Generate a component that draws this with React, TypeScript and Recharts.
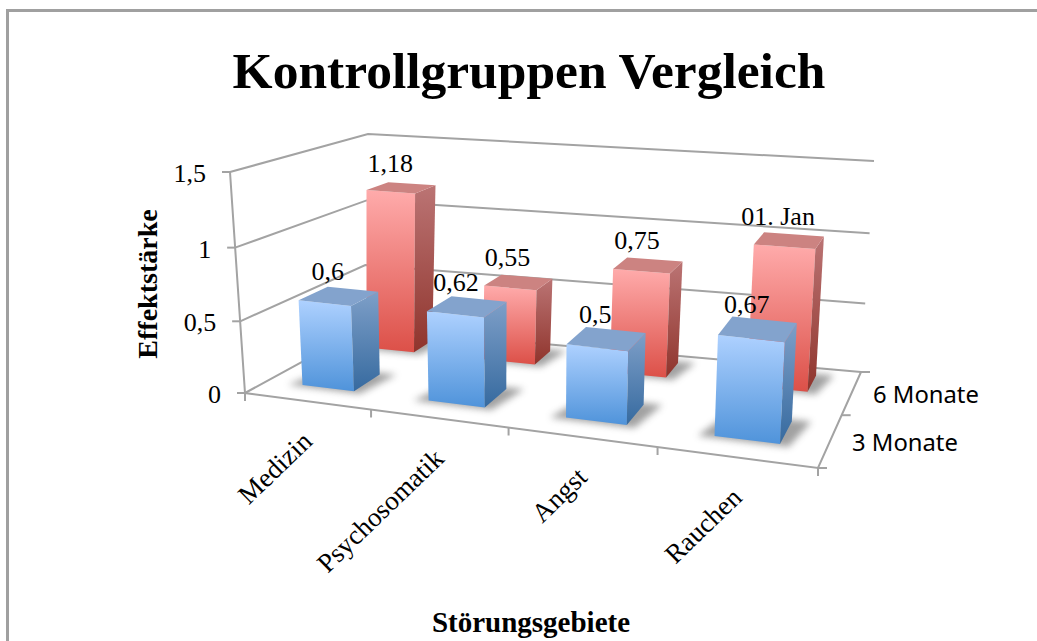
import { BarChart, Bar, XAxis, YAxis, CartesianGrid, LabelList } from "recharts";

const categories = ["Medizin", "Psychosomatik", "Angst", "Rauchen"];
const months3 = [0.6, 0.62, 0.5, 0.67];
const months6 = [1.18, 0.55, 0.75, 1];
const labels3 = ["0,6", "0,62", "0,5", "0,67"];
const labels6 = ["1,18", "0,55", "0,75", "01. Jan"];
const yTicks = [0, 0.5, 1, 1.5];
const yTickLabels = ["0", "0,5", "1", "1,5"];
const rowNames = ["3 Monate", "6 Monate"];

const data = categories.map((name, i) => ({
  name,
  months3: months3[i],
  months6: months6[i],
  label3: labels3[i],
  label6: labels6[i],
}));

const WIDTH = 1037;
const HEIGHT = 641;
const PLOT = { left: 245, top: 172, width: 573, height: 296 };

const SERIF = "'Liberation Serif', serif";
const SANS = "'Noto Sans', sans-serif";
const AXIS_GREY = "#a3a3a3";

type Pt = [number, number];

// box corners as seen on screen: floor and ceiling, front-left, front-right, back-right, back-left
const FLOOR: Pt[] = [[245, 393], [818, 468], [861, 372], [364, 328]];
const CEIL: Pt[] = [[230, 172], [831, 228], [874, 161], [368, 134]];

const ROW_DEPTH: Pt[] = [[0.19, 0.43], [0.75, 0.92]];

const mix = (a: Pt, b: Pt, t: number): Pt => [a[0] + (b[0] - a[0]) * t, a[1] + (b[1] - a[1]) * t];

const onQuad = (q: Pt[], u: number, d: number): Pt => mix(mix(q[0], q[1], u), mix(q[3], q[2], u), d);

// u and d are 0..1 along the front edge and into the depth, h is 0..1 up the wall
function project(u: number, d: number, h: number): Pt {
  const wu = 0.84 * u + 0.16 * u * u;
  const wh = 0.96 * h + 0.04 * h * h;
  return mix(onQuad(FLOOR, wu, d), onQuad(CEIL, wu, d), wh);
}

const poly = (pts: Pt[]) => pts.map((p) => p.map((v) => v.toFixed(1)).join(",")).join(" ");

const PALETTE: any = {
  blue: { front: "url(#blueFront)", side: "url(#blueSide)", top: "#83a3cd" },
  red: { front: "url(#redFront)", side: "url(#redSide)", top: "#cc8381" },
};

function Bar3D({ x, width, height, row, color }: any) {
  const u0 = (x - PLOT.left) / PLOT.width;
  const u1 = (x + width - PLOT.left) / PLOT.width;
  const h = height / PLOT.height;
  const [d0, d1] = ROW_DEPTH[row];
  const c = PALETTE[color];
  const shadow = [
    project(u0 - 0.025, d0 - 0.02, 0),
    project(u1 + 0.015, d0 - 0.02, 0),
    project(u1 + 0.03, d1 + 0.02, 0),
    project(u0, d1 + 0.02, 0),
  ];
  return (
    <g>
      <polygon points={poly(shadow)} fill="#555" opacity={0.55} filter="url(#soft)" />
      <polygon
        points={poly([project(u0, d0, 0), project(u1, d0, 0), project(u1, d0, h), project(u0, d0, h)])}
        fill={c.front}
      />
      <polygon
        points={poly([project(u1, d0, 0), project(u1, d1, 0), project(u1, d1, h), project(u1, d0, h)])}
        fill={c.side}
      />
      <polygon
        points={poly([project(u0, d0, h), project(u1, d0, h), project(u1, d1, h), project(u0, d1, h)])}
        fill={c.top}
      />
    </g>
  );
}

function BarLabel({ row, ...props }: any) {
  const box = props.viewBox ?? props;
  const u = (box.x + box.width / 2 - PLOT.left) / PLOT.width;
  const h = Math.abs(box.height) / PLOT.height;
  const [d0, d1] = ROW_DEPTH[row];
  const [px, py] = project(u, (d0 + d1) / 2, h);
  return (
    <text x={px - 11} y={py - 16} textAnchor="middle" fontFamily={SERIF} fontSize={26} fill="#000">
      {props.value}
    </text>
  );
}

// one grid line, bent along the left and back walls
function wallLine(props: any) {
  const h = (PLOT.top + PLOT.height - props.y1) / PLOT.height;
  return (
    <polyline
      key={props.key ?? props.y1}
      points={poly([project(0, 0, h), project(0, 1, h), project(1, 1, h)])}
      fill="none"
      stroke={AXIS_GREY}
      strokeWidth={2}
    />
  );
}

function WallTick({ y, payload }: any) {
  const h = (PLOT.top + PLOT.height - y) / PLOT.height;
  const front = project(0, 0, h);
  const label = yTickLabels[yTicks.indexOf(payload.value)];
  return (
    <g>
      <line x1={front[0] - 8} y1={front[1]} x2={front[0]} y2={front[1]} stroke={AXIS_GREY} strokeWidth={2} />
      <text x={front[0] - 24} y={front[1] + 10} textAnchor="end" fontFamily={SERIF} fontSize={26} fill="#000">
        {label}
      </text>
    </g>
  );
}

function CategoryTick({ x, payload }: any) {
  const u = (x - PLOT.left) / PLOT.width;
  const [px, py] = project(u, 0, 0);
  return (
    <text
      x={px + 7}
      y={py + 42}
      textAnchor="end"
      fontFamily={SERIF}
      fontSize={27}
      fill="#000"
      transform={`rotate(-44 ${px + 7} ${py + 42})`}
    >
      {payload.value}
    </text>
  );
}

function Frame() {
  const edge = [0, 0.25, 0.5, 0.75, 1];
  const depthTicks = [0, 0.55, 1];
  return (
    <g stroke={AXIS_GREY} strokeWidth={2} fill="none">
      <polyline points={poly([project(0, 0, 1), project(0, 0, 0), project(1, 0, 0), project(1, 1, 0)])} />
      {edge.map((u) => {
        const [px, py] = project(u, 0, 0);
        return <line key={u} x1={px} y1={py} x2={px} y2={py + 8} />;
      })}
      {depthTicks.map((d) => {
        const [px, py] = project(1, d, 0);
        return <line key={d} x1={px} y1={py} x2={px + 9} y2={py} />;
      })}
    </g>
  );
}

export default function App() {
  return (
    <div style={{ position: "absolute", left: 0, top: 0, width: WIDTH, height: HEIGHT, overflow: "hidden", background: "#fff" }}>
      <div
        style={{
          position: "absolute",
          left: 6,
          top: 9,
          width: WIDTH,
          height: HEIGHT,
          borderLeft: "3px solid #a0a0a0",
          borderTop: "3px solid #a0a0a0",
        }}
      />
      <div style={{ position: "absolute", left: 0, top: 0 }}>
        <BarChart
          width={WIDTH}
          height={HEIGHT}
          data={data}
          margin={{
            left: PLOT.left - 1,
            top: PLOT.top,
            right: WIDTH - PLOT.left - PLOT.width,
            bottom: HEIGHT - PLOT.top - PLOT.height - 1,
          }}
          barSize={60}
          barGap={-60}
        >
          <defs>
            <linearGradient id="blueFront" x1="0" y1="0" x2="0" y2="1">
              <stop offset="0" stopColor="#aed1ff" />
              <stop offset="1" stopColor="#4f93da" />
            </linearGradient>
            <linearGradient id="blueSide" x1="0" y1="0" x2="0" y2="1">
              <stop offset="0" stopColor="#7e9fc8" />
              <stop offset="1" stopColor="#366a9f" />
            </linearGradient>
            <linearGradient id="redFront" x1="0" y1="0" x2="0" y2="1">
              <stop offset="0" stopColor="#ffabab" />
              <stop offset="1" stopColor="#dc5048" />
            </linearGradient>
            <linearGradient id="redSide" x1="0" y1="0" x2="0" y2="1">
              <stop offset="0" stopColor="#bb7474" />
              <stop offset="1" stopColor="#8f342c" />
            </linearGradient>
            <filter id="soft" x="-30%" y="-30%" width="160%" height="160%">
              <feGaussianBlur stdDeviation="3.5" />
            </filter>
          </defs>
          <CartesianGrid vertical={false} horizontal={wallLine} />
          <Frame />
          <XAxis dataKey="name" height={1} axisLine={false} tickLine={false} interval={0} tick={<CategoryTick />} />
          <YAxis
            domain={[0, 1.5]}
            ticks={yTicks}
            width={1}
            axisLine={false}
            tickLine={false}
            interval={0}
            tick={<WallTick />}
          />
          <Bar
            dataKey="months6"
            isAnimationActive={false}
            shape={(p: any) => <Bar3D {...p} row={1} color="red" />}
          >
            <LabelList dataKey="label6" content={(p: any) => <BarLabel {...p} row={1} />} />
          </Bar>
          <Bar
            dataKey="months3"
            isAnimationActive={false}
            shape={(p: any) => <Bar3D {...p} row={0} color="blue" />}
          >
            <LabelList dataKey="label3" content={(p: any) => <BarLabel {...p} row={0} />} />
          </Bar>
          <text x={529} y={88} textAnchor="middle" fontFamily={SERIF} fontWeight="bold" fontSize={51.5} fill="#000">
            Kontrollgruppen Vergleich
          </text>
          <text
            x={157}
            y={284}
            textAnchor="middle"
            fontFamily={SERIF}
            fontWeight="bold"
            fontSize={28}
            fill="#000"
            transform="rotate(-90 157 284)"
          >
            Effektstärke
          </text>
          <text x={531} y={632} textAnchor="middle" fontFamily={SERIF} fontWeight="bold" fontSize={29} fill="#000">
            Störungsgebiete
          </text>
          <text x={852} y={451} fontFamily={SANS} fontSize={23.8} fill="#000">
            {rowNames[0]}
          </text>
          <text x={873} y={403} fontFamily={SANS} fontSize={23.8} fill="#000">
            {rowNames[1]}
          </text>
        </BarChart>
      </div>
    </div>
  );
}
